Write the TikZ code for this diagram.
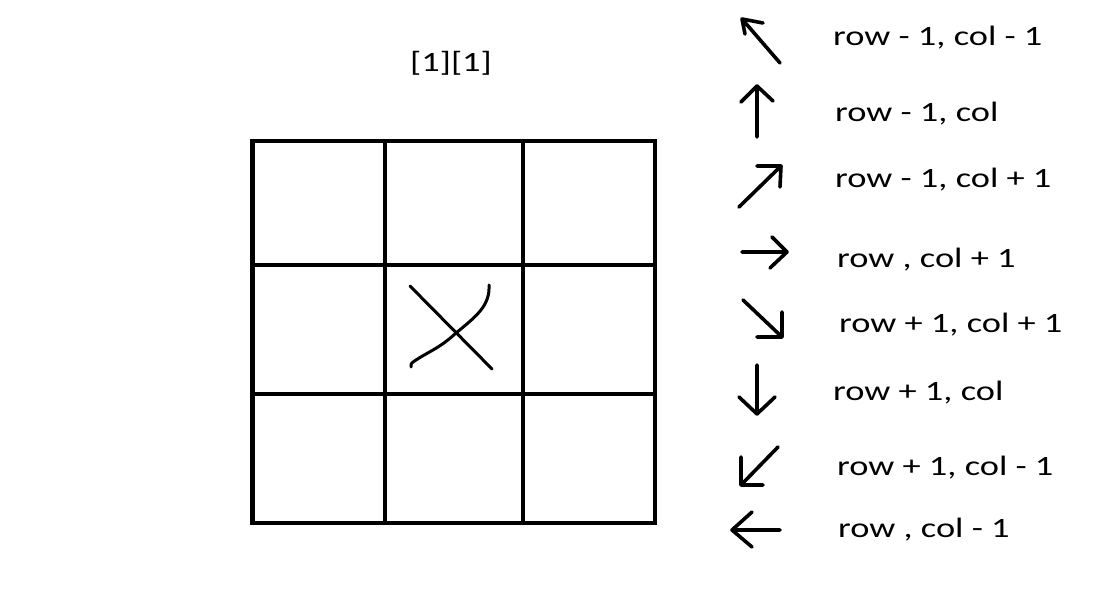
\documentclass[tikz,border=0pt]{standalone}
\usepackage{fontspec}
\setmainfont[FakeStretch=1.3]{Carlito}
\begin{document}
\begin{tikzpicture}[x=1pt,y=-1pt,
  lbl/.style={anchor=base west,inner sep=0pt,font=\fontsize{28}{32}\selectfont},
  gridline/.style={line width=4.2pt},
  arr/.style={line width=3.6pt,line cap=round,line join=round},
  pen/.style={line width=3pt,line cap=round}]
\useasboundingbox[fill=white] (0,0) rectangle (1103,609);
% grid
\draw[gridline] (252.5,141) rectangle (655,523);
\draw[gridline] (385,141) -- (385,523);
\draw[gridline] (523,141) -- (523,523);
\draw[gridline] (252.5,265) -- (655,265);
\draw[gridline] (252.5,394) -- (655,394);
% X mark
\draw[pen] (410,286) -- (492,369);
\draw[pen] (489,285) .. controls (490,305) and (478,315) .. (456,333)
  .. controls (440,348) and (428,352) .. (416,360) .. controls (411,363) and (410,365) .. (411,367);
% title
\node[lbl,anchor=base] (title) at (451,72) {[1][1]};
% arrows
\draw[arr] (780,63) -- (742,19) (763,23) -- (742,19) -- (745,34);
\draw[arr] (757,137) -- (757,86) (741,102) -- (757,86) -- (773,101);
\draw[arr] (739,207) -- (781,166) (757,166) -- (781,166) -- (780,187);
\draw[arr] (742,252) -- (787,252) (772,237) -- (787,252) -- (770,268);
\draw[arr] (743,300) -- (782,337) (782,312) -- (782,337) -- (757,337);
\draw[arr] (757,365) -- (757,414) (739,397) -- (757,414) -- (775,397);
\draw[arr] (778,447) -- (741,485) (741,457) -- (741,485) -- (763,485);
\draw[arr] (780,530) -- (732,530) (752,512) -- (732,530) -- (752,547);
% labels
\node[lbl] (l1) at (833,46) {row - 1, col - 1};
\node[lbl] (l2) at (835,122) {row - 1, col};
\node[lbl] (l3) at (835,188) {row - 1, col + 1};
\node[lbl] (l4) at (837,268) {row , col + 1};
\node[lbl] (l5) at (839,333) {row + 1, col + 1};
\node[lbl] (l6) at (833,400) {row + 1, col};
\node[lbl] (l7) at (837,475) {row + 1, col - 1};
\node[lbl] (l8) at (838,537) {row , col - 1};
\end{tikzpicture}
\end{document}
